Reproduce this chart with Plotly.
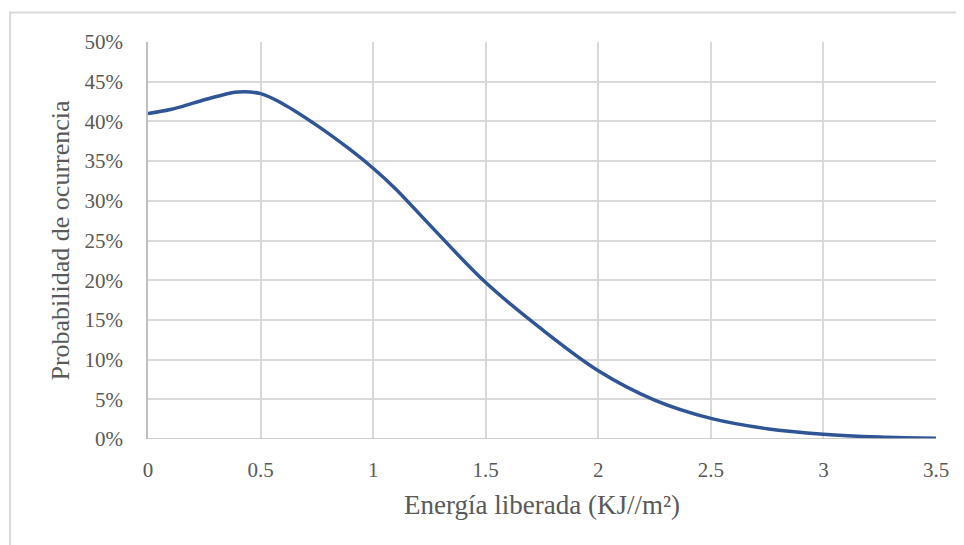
import plotly.graph_objects as go

# energía liberada (KJ/m²) vs probabilidad de ocurrencia (%)
energia = [0, 0.1, 0.2, 0.3, 0.4, 0.5, 0.6, 0.75, 0.9, 1.0, 1.1, 1.25, 1.5,
           1.75, 2.0, 2.25, 2.5, 2.75, 3.0, 3.25, 3.5]
probabilidad = [41.0, 41.5, 42.3, 43.1, 43.7, 43.5, 42.2, 39.5, 36.4, 34.1,
                31.5, 27.0, 19.7, 13.8, 8.6, 4.9, 2.6, 1.3, 0.6, 0.25, 0.1]

x_ticks = [0, 0.5, 1, 1.5, 2, 2.5, 3, 3.5]
x_labels = ["0", "0.5", "1", "1.5", "2", "2.5", "3", "3.5"]

FONT = "Liberation Serif, Times New Roman, serif"
TEXT = "#595959"
GRID = "#D9D9D9"

fig = go.Figure()
fig.add_trace(
    go.Scatter(
        x=energia,
        y=probabilidad,
        mode="lines",
        line=dict(color="#2F5597", width=3.5, shape="spline", smoothing=1.0),
        showlegend=False,
        hoverinfo="skip",
    )
)

# outer chart frame (runs off the canvas to the right and bottom)
fig.add_shape(
    type="rect", xref="paper", yref="paper",
    x0=-0.175, x1=1.2, y0=-0.6, y1=1.074,
    line=dict(color="#D9D9D9", width=2), fillcolor="rgba(0,0,0,0)",
    layer="below",
)

# the page body adds ~7px offset, so margins are shifted to compensate
fig.update_layout(
    width=964,
    height=545,
    margin=dict(l=140, r=36, t=34, b=114),
    paper_bgcolor="white",
    plot_bgcolor="white",
    font=dict(family=FONT, color=TEXT, size=21),
    xaxis=dict(
        range=[0, 3.5],
        tickvals=x_ticks,
        ticktext=x_labels,
        showgrid=True,
        gridcolor=GRID,
        gridwidth=1.5,
        zeroline=False,
        showline=False,
        ticks="",
        ticklabelstandoff=16,
        title=dict(text="Energía liberada (KJ//m²)", standoff=14,
                   font=dict(size=27)),
    ),
    yaxis=dict(
        range=[0, 50],
        dtick=5,
        ticksuffix="%",
        showgrid=True,
        gridcolor=GRID,
        gridwidth=1.5,
        zeroline=False,
        showline=True,
        linecolor="#BFBFBF",
        linewidth=1.5,
        ticks="",
        ticklabelstandoff=19,
        title=dict(text="Probabilidad de ocurrencia", standoff=7,
                   font=dict(size=26)),
    ),
)

fig.add_hline(y=0, line=dict(color="#BFBFBF", width=1.5))

fig.write_html("out.html")
